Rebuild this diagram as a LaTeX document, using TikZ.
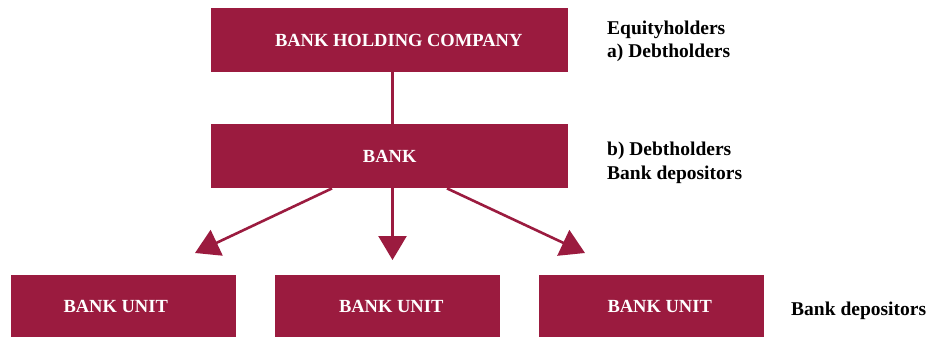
\documentclass[tikz,border=0pt]{standalone}
\usepackage{fontspec}
\setmainfont{Liberation Serif}
\usetikzlibrary{arrows.meta}
\definecolor{crim}{HTML}{9B1B3F}
\begin{document}
\begin{tikzpicture}[x=1pt,y=-1pt,
  box/.style={fill=crim,draw=none,text=white,font=\bfseries\fontsize{18.5}{22}\selectfont,inner sep=0pt,anchor=north west},
  lbl/.style={font=\bfseries\fontsize{19.5}{23.5}\selectfont,anchor=base west,inner sep=0pt,align=left},
  conn/.style={draw=crim,line width=2.6pt},
  arr/.style={conn,-{Triangle[length=24pt,width=28pt]}}]
\useasboundingbox (0,0) rectangle (944,337);
\node[box,minimum width=357pt,minimum height=64pt] (bhc) at (211,8) {\hspace*{18pt}BANK HOLDING COMPANY};
\node[box,minimum width=357pt,minimum height=64pt] (bank) at (211,124) {BANK};
\node[box,minimum width=225pt,minimum height=62pt] (u1) at (11,275) {BANK UNIT\hspace*{16pt}};
\node[box,minimum width=225pt,minimum height=62pt] (u2) at (275,275) {\hspace*{7pt}BANK UNIT};
\node[box,minimum width=225pt,minimum height=62pt] (u3) at (539,275) {\hspace*{16pt}BANK UNIT};
\coordinate (t1) at (195,253);
\coordinate (t2) at (392.5,260);
\coordinate (t3) at (585,253);
\draw[conn] (bhc.south -| 392.5,0) -- (bank.north -| 392.5,0);
\draw[arr] (bank.south -| 332,0) -- (t1);
\draw[arr] (bank.south -| 392.5,0) -- (t2);
\draw[arr] (bank.south -| 447,0) -- (t3);
\node[lbl] (l1) at (607,58) {Equityholders\\a) Debtholders};
\node[lbl] (l2) at (607,179) {b) Debtholders\\Bank depositors};
\node[lbl] (l3) at (791,315) {Bank depositors};
\end{tikzpicture}
\end{document}
